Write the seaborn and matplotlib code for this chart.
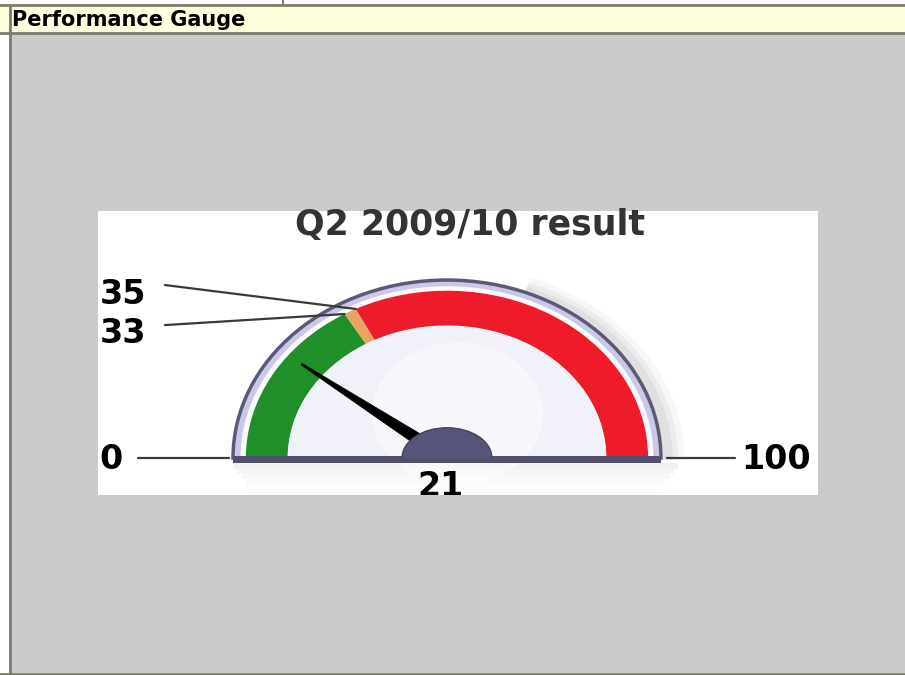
import numpy as np
import matplotlib
matplotlib.use("Agg")
import matplotlib.pyplot as plt
from matplotlib.patches import Wedge, Rectangle, Polygon, Ellipse
import seaborn as sns
import pandas as pd

# ---- data ----
panel_title = "Performance Gauge"
chart_title = "Q2 2009/10 result"
band_edges = [0, 33, 35, 100]
band_colors = ["#1f8f2a", "#e9a462", "#ee1b2a"]
needle_value = 21
min_value = 0
max_value = 100
threshold_labels = [35, 33]

sns.set_style("white")
plt.rcParams['font.family'] = ['DejaVu Sans']

W, H = 905, 675
fig = plt.figure(figsize=(W / 100, H / 100), dpi=100)

# ---- page chrome (pixel coordinates) ----
bg = fig.add_axes([0, 0, 1, 1])
bg.set_xlim(0, W)
bg.set_ylim(H, 0)
bg.axis("off")
border = "#7c7c6c"
bg.add_patch(Rectangle((0, 5), W, 27, facecolor="#fffedc", edgecolor="none"))
bg.add_patch(Rectangle((11, 33), W - 11, 640, facecolor="#cbcbcb", edgecolor="none"))
bg.plot([0, W], [5, 5], color=border, lw=2)
bg.plot([0, W], [32.5, 32.5], color=border, lw=2)
bg.plot([283, 283], [0, 5], color=border, lw=1.5)
bg.plot([10, 10], [5, 675], color=border, lw=2)
bg.plot([0, W], [673.5, 673.5], color=border, lw=2)
bg.text(12, 19.5, panel_title, fontsize=15, fontweight="bold", color="black",
        va="center", ha="left")

# ---- gauge axes ----
ax = fig.add_axes([98 / W, 1 - 495 / H, 720 / W, 284 / H])
ax.set_xlim(-1.631, 1.734)
ax.set_ylim(-0.208, 1.388)
ax.set_facecolor("white")
for s in ax.spines.values():
    s.set_visible(False)
ax.set_xticks([])
ax.set_yticks([])


def ang(v):
    return 180.0 - 180.0 * (v - min_value) / (max_value - min_value)


# shadow under the gauge
for i, a in enumerate([0.10, 0.07, 0.05, 0.03, 0.02]):
    ax.add_patch(Rectangle((-1.0 + 0.02 * i, -0.03 - 0.03 * (i + 1)), 2.08 - 0.04 * i, 0.03,
                           facecolor="#777777", alpha=a, edgecolor="none"))
for w_, a in [(0.09, 0.06), (0.06, 0.08), (0.035, 0.10)]:
    ax.add_patch(Wedge((0.02, -0.01), 1.0 + w_, 0, 70, width=w_ + 0.01, facecolor="#777777",
                       alpha=a, edgecolor="none"))

# bezel
ax.add_patch(Wedge((0, 0), 1.0, 0, 180, facecolor="#c9c9e6", edgecolor="#5a5a78", lw=2.5))
ax.add_patch(Wedge((0, 0), 0.965, 0, 180, facecolor="#fbfbff", edgecolor="none"))
ax.add_patch(Wedge((0, 0), 0.74, 0, 180, facecolor="#f1f1f9", edgecolor="none"))
ax.add_patch(Wedge((0.05, 0.25), 0.4, 0, 360, facecolor="white", alpha=0.45, edgecolor="none"))

# colour bands
for lo, hi, c in zip(band_edges[:-1], band_edges[1:], band_colors):
    ax.add_patch(Wedge((0, 0), 0.94, ang(hi), ang(lo), width=0.195,
                       facecolor=c, edgecolor="none"))

# base bar
ax.add_patch(Rectangle((-1.0, -0.03), 2.0, 0.04, facecolor="#50506c", edgecolor="none"))

# needle
th = np.deg2rad(ang(needle_value))
tip = np.array([0.86 * np.cos(th), 0.86 * np.sin(th)])
base = np.array([0.14 * np.cos(th), 0.14 * np.sin(th)])
perp = np.array([-np.sin(th), np.cos(th)]) * 0.032
tip_perp = perp * 0.15
ax.add_patch(Polygon([tip + tip_perp, base + perp, base - perp, tip - tip_perp], closed=True,
                     facecolor="black", edgecolor="black", lw=0.5))

# hub (half ellipse)
hub = Ellipse((0, 0), 0.42, 0.34, facecolor="#55557a", edgecolor="#444460", lw=1)
ax.add_patch(hub)
hub.set_clip_path(Rectangle((-1, 0.0), 2, 1, transform=ax.transData))

# leader lines
r_out = 0.94
rows = []
for k, v in enumerate(threshold_labels):
    t = np.deg2rad(ang(v))
    ly = [0.972, 0.747][k]
    rows.append(pd.DataFrame({"x": [-1.318, r_out * np.cos(t)],
                              "y": [ly, r_out * np.sin(t)], "g": str(v)}))
rows.append(pd.DataFrame({"x": [-1.444, -1.02], "y": [0.0, 0.0], "g": "min"}))
rows.append(pd.DataFrame({"x": [1.03, 1.345], "y": [0.0, 0.0], "g": "max"}))
lines = pd.concat(rows, ignore_index=True)
sns.lineplot(data=lines, x="x", y="y", units="g", estimator=None, sort=False,
             color="#3a3a3a", lw=1.6, ax=ax, legend=False)
ax.set_xlabel("")
ax.set_ylabel("")
ax.set_xlim(-1.631, 1.734)
ax.set_ylim(-0.208, 1.388)

fs = 24
ax.text(-1.625, 0.921, str(threshold_labels[0]), fontsize=fs, fontweight="bold",
        ha="left", va="center", color="black")
ax.text(-1.625, 0.702, str(threshold_labels[1]), fontsize=fs, fontweight="bold",
        ha="left", va="center", color="black")
ax.text(-1.625, -0.01, str(min_value), fontsize=fs, fontweight="bold",
        ha="left", va="center", color="black")
ax.text(1.375, -0.01, str(max_value), fontsize=fs, fontweight="bold",
        ha="left", va="center", color="black")
ax.text(-0.028, -0.16, str(needle_value), fontsize=fs, fontweight="bold",
        ha="center", va="center", color="black", clip_on=True)
ax.text(0.107, 1.31, chart_title, fontsize=25, fontweight="bold",
        ha="center", va="center", color="#333333")

fig.savefig("out.png", dpi=100)
